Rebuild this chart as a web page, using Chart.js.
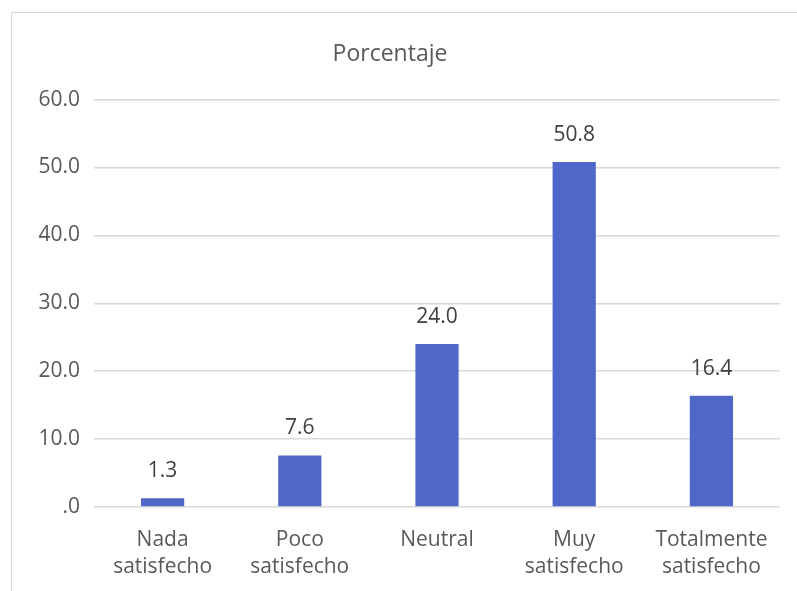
<!DOCTYPE html>
<html>
<head>
<meta charset="utf-8">
<script src="https://cdn.jsdelivr.net/npm/chart.js@4"></script>
<style>
  html, body { margin: 0; padding: 0; background: #fff; overflow: hidden; }
  #frame { position: absolute; left: 11px; top: 12px; width: 900px; height: 700px; border: 1px solid #d9d9d9; }
  #wrap { position: absolute; left: 0; top: 0; width: 797px; height: 591px; }
</style>
</head>
<body>
<div id="frame"></div>
<div id="wrap"><canvas id="chart"></canvas></div>
<script>
// categories and values
const categories = [['Nada', 'satisfecho'], ['Poco', 'satisfecho'], 'Neutral', ['Muy', 'satisfecho'], ['Totalmente', 'satisfecho']];
const percentages = [1.3, 7.6, 24.0, 50.8, 16.4];
const yTicks = [0, 10, 20, 30, 40, 50, 60];

const fontFamily = '"Open Sans", "Noto Sans", sans-serif';
const textColor = '#595959';

function fmt(v) {
    return v === 0 ? '.0' : v.toFixed(1);
}

// values above each bar
const valueLabels = {
    id: 'valueLabels',
    afterDatasetsDraw(chart) {
        const ctx = chart.ctx;
        const meta = chart.getDatasetMeta(0);
        ctx.save();
        ctx.font = '21px ' + fontFamily;
        ctx.fillStyle = '#404040';
        ctx.textAlign = 'center';
        ctx.textBaseline = 'middle';
        meta.data.forEach((bar, i) => {
            ctx.fillText(fmt(percentages[i]), bar.x, bar.y - 27);
        });
        ctx.restore();
    }
};

new Chart(document.getElementById('chart'), {
    type: 'bar',
    data: {
        labels: categories,
        datasets: [{
            data: percentages,
            backgroundColor: '#4f67c9',
            barPercentage: 0.315,
            categoryPercentage: 1
        }]
    },
    options: {
        responsive: true,
        maintainAspectRatio: false,
        animation: false,
        layout: { padding: { left: 0, right: 17, top: 0, bottom: 0 } },
        plugins: {
            legend: { display: false },
            tooltip: { enabled: false },
            title: {
                display: true,
                text: 'Porcentaje',
                color: textColor,
                font: { family: fontFamily, size: 23, weight: 'normal', lineHeight: 1.2 },
                padding: { top: 41, bottom: 31 }
            }
        },
        scales: {
            x: {
                grid: { display: false },
                border: { display: false },
                ticks: {
                    color: textColor,
                    font: { family: fontFamily, size: 21, lineHeight: 1.3 },
                    padding: 11,
                    maxRotation: 0,
                    autoSkip: false
                },
                afterFit(scale) { scale.height = 84; }
            },
            y: {
                min: 0,
                max: 60,
                afterBuildTicks(scale) { scale.ticks = yTicks.map(v => ({ value: v })); },
                grid: { color: '#d9d9d9', lineWidth: 1.5, drawTicks: false },
                border: { display: false },
                ticks: {
                    color: textColor,
                    font: { family: fontFamily, size: 21 },
                    padding: 14,
                    callback: v => fmt(v)
                },
                afterFit(scale) { scale.width = 94; }
            }
        }
    },
    plugins: [valueLabels]
});
</script>
</body>
</html>
